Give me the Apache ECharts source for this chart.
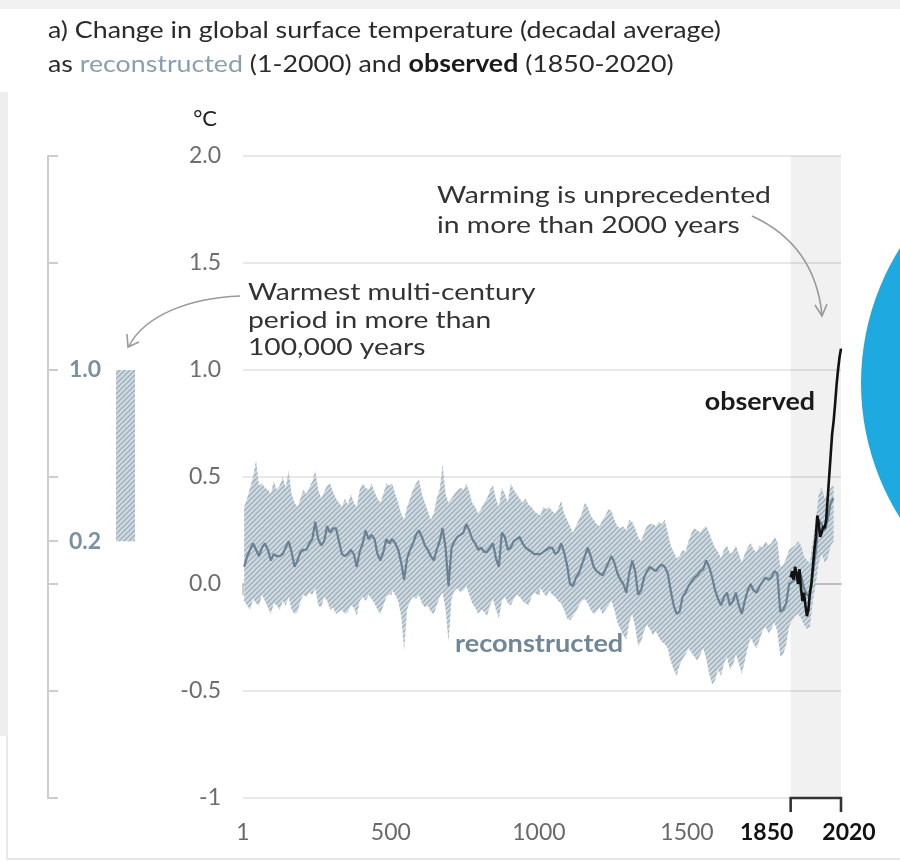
<!DOCTYPE html>
<html>
<head>
<meta charset="utf-8">
<script src="https://cdn.jsdelivr.net/npm/echarts@6/dist/echarts.min.js"></script>
<style>
  html, body { margin: 0; padding: 0; background: #ffffff; }
  #chart { width: 900px; height: 863px; }
</style>
</head>
<body>
<div id="chart"></div>
<script>
// Decadal mid-points of the reconstruction (5, 15, ... 1995)
const decadeYears = Array.from({ length: 200 }, (_, i) => 5 + 10 * i);

// Reconstructed global surface temperature change, median (°C)
const reconMedian = [
  0.08, 0.13, 0.16, 0.19, 0.16, 0.13, 0.17, 0.19, 0.16, 0.11,
  0.14, 0.13, 0.13, 0.14, 0.17, 0.20, 0.15, 0.08, 0.11, 0.15,
  0.16, 0.16, 0.19, 0.21, 0.29, 0.21, 0.18, 0.20, 0.27, 0.24,
  0.26, 0.26, 0.20, 0.14, 0.13, 0.14, 0.16, 0.14, 0.08, 0.15,
  0.19, 0.25, 0.21, 0.23, 0.21, 0.14, 0.11, 0.15, 0.21, 0.19,
  0.21, 0.19, 0.16, 0.10, 0.02, 0.12, 0.16, 0.19, 0.23, 0.25,
  0.22, 0.18, 0.16, 0.13, 0.11, 0.16, 0.20, 0.26, 0.17, -0.01,
  0.17, 0.20, 0.22, 0.23, 0.24, 0.28, 0.25, 0.21, 0.19, 0.16,
  0.17, 0.15, 0.15, 0.17, 0.19, 0.12, 0.08, 0.24, 0.22, 0.16,
  0.17, 0.20, 0.21, 0.22, 0.19, 0.17, 0.16, 0.15, 0.14, 0.14,
  0.14, 0.15, 0.16, 0.17, 0.17, 0.14, 0.15, 0.19, 0.15, 0.09,
  0.00, -0.01, 0.03, 0.05, 0.09, 0.13, 0.17, 0.13, 0.08, 0.06,
  0.05, 0.04, 0.07, 0.10, 0.13, 0.10, 0.05, 0.02, 0.00, -0.04,
  0.05, 0.11, 0.06, -0.05, -0.03, 0.03, 0.06, 0.08, 0.07, 0.06,
  0.08, 0.09, 0.08, 0.05, -0.03, -0.10, -0.14, -0.13, -0.06, -0.04,
  -0.01, 0.01, 0.03, 0.04, 0.06, 0.07, 0.11, 0.08, 0.03, -0.03,
  -0.07, -0.10, -0.06, -0.04, -0.10, -0.08, -0.04, -0.10, -0.14, -0.08,
  -0.03, 0.00, -0.03, -0.04, -0.01, 0.01, 0.03, 0.02, 0.03, 0.06,
  0.05, -0.13, -0.12, -0.09, 0.00, 0.01, 0.02, 0.05, 0.04, -0.02,
  -0.05, -0.06, 0.05, 0.15, 0.30, 0.28, 0.25, 0.30, 0.38, 0.40
];

// Upper edge of the very likely range (°C)
const reconUpper = [
  0.36, 0.40, 0.45, 0.50, 0.58, 0.46, 0.47, 0.45, 0.44, 0.42,
  0.48, 0.44, 0.46, 0.50, 0.45, 0.53, 0.42, 0.38, 0.36, 0.40,
  0.44, 0.42, 0.45, 0.48, 0.53, 0.44, 0.40, 0.43, 0.46, 0.47,
  0.43, 0.40, 0.38, 0.36, 0.40, 0.37, 0.42, 0.38, 0.36, 0.44,
  0.47, 0.45, 0.44, 0.47, 0.43, 0.40, 0.38, 0.42, 0.47, 0.46,
  0.47, 0.42, 0.38, 0.33, 0.30, 0.36, 0.40, 0.44, 0.47, 0.49,
  0.42, 0.38, 0.34, 0.30, 0.33, 0.40, 0.44, 0.56, 0.42, 0.38,
  0.40, 0.42, 0.44, 0.45, 0.44, 0.47, 0.43, 0.38, 0.36, 0.33,
  0.35, 0.38, 0.40, 0.44, 0.46, 0.40, 0.36, 0.45, 0.42, 0.38,
  0.47, 0.44, 0.42, 0.40, 0.38, 0.40, 0.37, 0.36, 0.34, 0.33,
  0.32, 0.36, 0.35, 0.36, 0.34, 0.33, 0.35, 0.39, 0.33, 0.30,
  0.27, 0.24, 0.27, 0.30, 0.33, 0.38, 0.36, 0.32, 0.30, 0.28,
  0.27, 0.30, 0.32, 0.35, 0.34, 0.30, 0.27, 0.26, 0.27, 0.25,
  0.30, 0.29, 0.26, 0.22, 0.20, 0.24, 0.27, 0.28, 0.28, 0.27,
  0.29, 0.28, 0.30, 0.24, 0.18, 0.15, 0.12, 0.13, 0.16, 0.15,
  0.20, 0.24, 0.26, 0.25, 0.24, 0.26, 0.27, 0.24, 0.20, 0.17,
  0.15, 0.12, 0.16, 0.18, 0.14, 0.15, 0.18, 0.14, 0.10, 0.14,
  0.17, 0.19, 0.16, 0.15, 0.18, 0.17, 0.20, 0.18, 0.19, 0.22,
  0.20, 0.08, 0.09, 0.12, 0.16, 0.17, 0.18, 0.20, 0.18, 0.13,
  0.11, 0.10, 0.20, 0.30, 0.42, 0.45, 0.40, 0.42, 0.45, 0.46
];

// Lower edge of the very likely range (°C)
const reconLower = [
  -0.08, -0.10, -0.12, -0.07, -0.09, -0.10, -0.05, -0.08, -0.11, -0.14,
  -0.09, -0.10, -0.12, -0.08, -0.10, -0.06, -0.12, -0.14, -0.13, -0.08,
  -0.05, -0.06, -0.04, -0.05, -0.02, -0.10, -0.11, -0.06, -0.08, -0.12,
  -0.11, -0.14, -0.13, -0.12, -0.14, -0.13, -0.10, -0.11, -0.15, -0.08,
  -0.06, -0.08, -0.05, -0.07, -0.09, -0.12, -0.14, -0.10, -0.06, -0.05,
  -0.03, -0.05, -0.08, -0.15, -0.31, -0.12, -0.08, -0.06, -0.07, -0.05,
  -0.09, -0.11, -0.10, -0.13, -0.14, -0.10, -0.06, -0.04, -0.12, -0.27,
  -0.07, -0.03, -0.02, -0.04, -0.03, -0.01, -0.05, -0.09, -0.11, -0.14,
  -0.12, -0.13, -0.15, -0.10, -0.07, -0.12, -0.16, -0.08, -0.06, -0.09,
  -0.10, -0.07, -0.05, -0.06, -0.08, -0.09, -0.10, -0.06, -0.04, -0.05,
  -0.02, -0.04, -0.06, -0.03, -0.05, -0.06, -0.08, -0.09, -0.12, -0.16,
  -0.17, -0.15, -0.13, -0.10, -0.08, -0.07, -0.09, -0.12, -0.14, -0.13,
  -0.11, -0.14, -0.12, -0.10, -0.08, -0.12, -0.18, -0.21, -0.24, -0.26,
  -0.18, -0.14, -0.20, -0.29, -0.27, -0.22, -0.19, -0.21, -0.24, -0.22,
  -0.25, -0.27, -0.28, -0.30, -0.36, -0.40, -0.43, -0.38, -0.35, -0.33,
  -0.30, -0.32, -0.34, -0.36, -0.33, -0.30, -0.35, -0.42, -0.47, -0.45,
  -0.40, -0.43, -0.37, -0.34, -0.40, -0.38, -0.33, -0.37, -0.42, -0.36,
  -0.30, -0.25, -0.28, -0.30, -0.26, -0.22, -0.20, -0.23, -0.21, -0.18,
  -0.22, -0.34, -0.33, -0.28, -0.20, -0.17, -0.15, -0.14, -0.16, -0.19,
  -0.21, -0.20, -0.08, 0.00, 0.10, 0.14, 0.10, 0.12, 0.18, 0.20
];

// Observed record, 1850-2020 (°C)
const obsYears = Array.from({ length: 35 }, (_, i) => 1850 + 5 * i);
const obsValues = [
  0.03, 0.06, 0.02, 0.08, 0.05, 0.00, 0.07, -0.02, -0.08, -0.04,
  -0.10, -0.15, -0.12, -0.04, 0.00, 0.08, 0.16, 0.22, 0.32, 0.28,
  0.22, 0.24, 0.27, 0.26, 0.30, 0.40, 0.50, 0.60, 0.70, 0.76,
  0.84, 0.93, 1.00, 1.06, 1.10
];

// Warmest multi-century period of the last 100,000 years (°C range)
const paleoRange = [0.2, 1.0];

// Axis ticks
const xTickLabels = [1, 500, 1000, 1500, 1850, 2020];
const xPlainTicks = [1, 500, 1000, 1500];
const observedSpan = [1850, 2020];
const paleoTicks = [-1, -0.5, 0, 0.2, 0.5, 1, 1.5, 2];

// Diagonal hatch used for the uncertainty ranges
function makeHatch() {
  const c = document.createElement('canvas');
  const s = 5;
  c.width = s; c.height = s;
  const g = c.getContext('2d');
  g.fillStyle = '#cddbe4';
  g.fillRect(0, 0, s, s);
  g.strokeStyle = '#a2adb5';
  g.lineWidth = 1.3;
  g.beginPath();
  g.moveTo(0, s); g.lineTo(s, 0);
  g.moveTo(-1, 1); g.lineTo(1, -1);
  g.moveTo(s - 1, s + 1); g.lineTo(s + 1, s - 1);
  g.stroke();
  return { image: c, repeat: 'repeat' };
}
const hatch = makeHatch();

const FONT = 'Lato';
const AXIS_FS = 23;
const chart = echarts.init(document.getElementById('chart'), null, { renderer: 'canvas' });

// Horizontally widened text block
function wideText(x, y, text, font, fill, sx, extra) {
  return Object.assign({
    type: 'text', z: 6, x: x, y: y, scaleX: sx,
    style: Object.assign({ x: 0, y: 0, text: text, font: font, fill: fill, verticalAlign: 'top', align: 'left' }, extra || {})
  });
}

const option = {
  animation: false,
  backgroundColor: '#ffffff',
  grid: [
    { left: 243, right: 59, top: 156, bottom: 65 },
    { left: 48, width: 102, top: 156, bottom: 65 }
  ],
  xAxis: [
    {
      type: 'value', gridIndex: 0, min: 1, max: 2020,
      splitLine: { show: false },
      axisLine: { show: true, lineStyle: { color: '#c9c9c9', width: 2 } },
      axisTick: { show: true, customValues: xPlainTicks, length: 11, lineStyle: { color: '#bdbdbd', width: 1.5 } },
      axisLabel: {
        customValues: xTickLabels,
        margin: 23,
        formatter: v => {
          if (v === observedSpan[0]) return '{s|' + v + '}';
          if (v === observedSpan[1]) return '{e|' + v + '}';
          return '{n|' + v + '}';
        },
        rich: {
          n: { fontFamily: FONT, fontSize: AXIS_FS, color: '#6a6a6a' },
          s: { fontFamily: FONT, fontSize: AXIS_FS, color: '#111', fontWeight: 'bold', padding: [0, 48, 0, 0] },
          e: { fontFamily: FONT, fontSize: AXIS_FS, color: '#111', fontWeight: 'bold', padding: [0, 0, 0, 16] }
        }
      }
    },
    { type: 'value', gridIndex: 1, min: 0, max: 1, show: false }
  ],
  yAxis: [
    {
      type: 'value', gridIndex: 0, min: -1, max: 2, interval: 0.5,
      name: '°C', nameLocation: 'end', nameGap: 26,
      nameTextStyle: { fontFamily: FONT, fontSize: 22, color: '#222', align: 'right', padding: [0, 26, 0, 0] },
      axisLine: { show: false },
      axisTick: { show: false },
      splitLine: { show: true, lineStyle: { color: '#e0e0e0', width: 1.5 } },
      axisLabel: {
        margin: 22, fontFamily: FONT, fontSize: AXIS_FS, color: '#6d6d6d',
        formatter: v => (v === -1 ? '-1' : v.toFixed(1))
      }
    },
    {
      type: 'value', gridIndex: 1, min: -1, max: 2, interval: 0.5, position: 'left',
      splitLine: { show: false },
      axisLine: { show: true, lineStyle: { color: '#cdcdcd', width: 2 } },
      axisTick: { show: true, inside: true, length: 10, customValues: paleoTicks, lineStyle: { color: '#cdcdcd', width: 2 } },
      axisLabel: {
        inside: true, margin: 21, customValues: [paleoRange[0], paleoRange[1]],
        fontFamily: FONT, fontSize: AXIS_FS, fontWeight: 'bold', color: '#7b90a4',
        formatter: v => v.toFixed(1)
      }
    }
  ],
  series: [
    {
      // shaded period of the observed record
      type: 'line', xAxisIndex: 0, yAxisIndex: 0, data: [], z: 1,
      markArea: {
        silent: true,
        itemStyle: { color: 'rgba(0,0,0,0.055)' },
        data: [[{ xAxis: observedSpan[0] }, { xAxis: observedSpan[1] }]]
      }
    },
    {
      // very likely range of the reconstruction
      type: 'custom', xAxisIndex: 0, yAxisIndex: 0, z: 2,
      data: [[decadeYears[0], reconMedian[0]]],
      renderItem: (params, api) => {
        const pts = [];
        for (let i = 0; i < decadeYears.length; i++) pts.push(api.coord([decadeYears[i], reconUpper[i]]));
        for (let i = decadeYears.length - 1; i >= 0; i--) pts.push(api.coord([decadeYears[i], reconLower[i]]));
        return { type: 'polygon', shape: { points: pts }, style: { fill: hatch } };
      }
    },
    {
      name: 'reconstructed', type: 'line', xAxisIndex: 0, yAxisIndex: 0, z: 3,
      showSymbol: false, symbol: 'none',
      lineStyle: { color: '#6a8093', width: 2.2 },
      data: decadeYears.map((y, i) => [y, reconMedian[i]])
    },
    {
      name: 'observed', type: 'line', xAxisIndex: 0, yAxisIndex: 0, z: 4,
      showSymbol: false, symbol: 'none',
      lineStyle: { color: '#111111', width: 2.6 },
      data: obsYears.map((y, i) => [y, obsValues[i]])
    },
    {
      // bracket marking the observed period on the time axis
      type: 'custom', xAxisIndex: 0, yAxisIndex: 0, z: 5, clip: false,
      data: [[observedSpan[0], -1, observedSpan[1]]],
      renderItem: (params, api) => {
        const a = api.coord([api.value(0), api.value(1)]);
        const b = api.coord([api.value(2), api.value(1)]);
        return {
          type: 'polyline',
          shape: { points: [[a[0], a[1] + 14], [a[0], a[1]], [b[0], b[1]], [b[0], b[1] + 14]] },
          style: { stroke: '#333333', lineWidth: 2.6, fill: null }
        };
      }
    },
    {
      // warmest multi-century period range bar
      type: 'custom', xAxisIndex: 1, yAxisIndex: 1, z: 2,
      data: [[0.76, paleoRange[0], paleoRange[1]]],
      renderItem: (params, api) => {
        const lo = api.coord([api.value(0), api.value(1)]);
        const hi = api.coord([api.value(0), api.value(2)]);
        return {
          type: 'rect',
          shape: { x: lo[0] - 9.5, y: hi[1], width: 19, height: lo[1] - hi[1] },
          style: { fill: hatch }
        };
      }
    }
  ],
  graphic: [
    // frame edges
    { type: 'rect', shape: { x: 0, y: 0, width: 900, height: 9 }, style: { fill: '#f1f1f1' }, z: -1 },
    { type: 'rect', shape: { x: 0, y: 92, width: 8, height: 644 }, style: { fill: '#eeeeee' }, z: -1 },
    { type: 'rect', shape: { x: 6, y: 736, width: 2, height: 124 }, style: { fill: '#e8e8e8' }, z: -1 },
    { type: 'rect', shape: { x: 6, y: 858, width: 894, height: 2 }, style: { fill: '#e8e8e8' }, z: -1 },
    // blue disc at the right edge
    { type: 'circle', shape: { cx: 1114, cy: 383, r: 253 }, style: { fill: '#1eaae1' }, z: 10 },
    // heading
    wideText(48, 13,
      'a) Change in global surface temperature (decadal average)\nas {r|reconstructed} (1-2000) and {b|observed} (1850-2020)',
      '24px Lato', '#2a2a2a', 1.115,
      {
        lineHeight: 34,
        rich: {
          r: { font: '24px Lato', fill: '#8aa0b0', lineHeight: 34 },
          b: { font: 'bold 24px Lato', fill: '#1a1a1a', lineHeight: 34 }
        }
      }),
    // annotations
    wideText(437, 180, 'Warming is unprecedented\nin more than 2000 years', '24px Lato', '#333333', 1.18, { lineHeight: 30 }),
    {
      type: 'bezierCurve', z: 6,
      shape: { x1: 752, y1: 216, cpx1: 800, cpy1: 238, cpx2: 818, cpy2: 275, x2: 822, y2: 315 },
      style: { stroke: '#9a9a9a', lineWidth: 1.6, fill: null }
    },
    {
      type: 'polyline', z: 6,
      shape: { points: [[815, 305], [822, 316], [827, 304]] },
      style: { stroke: '#9a9a9a', lineWidth: 1.6, fill: null }
    },
    wideText(248, 279, 'Warmest multi-century\nperiod in more than\n100,000 years', '24px Lato', '#333333', 1.176, { lineHeight: 27.5 }),
    {
      type: 'bezierCurve', z: 6,
      shape: { x1: 240, y1: 296, cpx1: 190, cpy1: 298, cpx2: 145, cpy2: 315, x2: 129, y2: 346 },
      style: { stroke: '#9a9a9a', lineWidth: 1.6, fill: null }
    },
    {
      type: 'polyline', z: 6,
      shape: { points: [[127, 334], [128, 347], [139, 342]] },
      style: { stroke: '#9a9a9a', lineWidth: 1.6, fill: null }
    },
    wideText(815, 402, 'observed', 'bold 24px Lato', '#1a1a1a', 1.12, { verticalAlign: 'middle', align: 'right' }),
    wideText(455, 644, 'reconstructed', 'bold 24px Lato', '#70879a', 1.13, { verticalAlign: 'middle' })
  ]
};

chart.setOption(option);
</script>
</body>
</html>
